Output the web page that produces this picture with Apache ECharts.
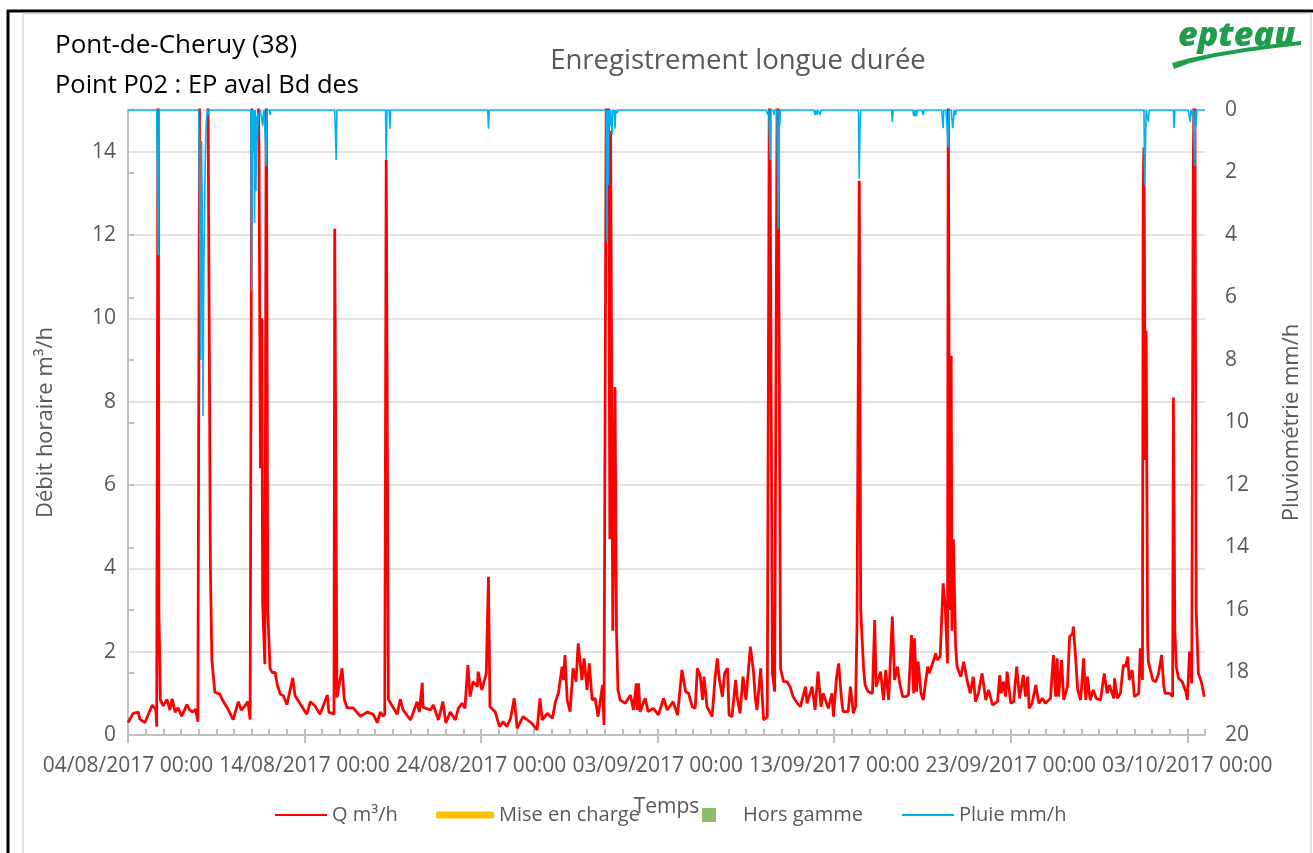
<!DOCTYPE html>
<html>
<head>
<meta charset="utf-8">
<script src="https://cdn.jsdelivr.net/npm/echarts@6/dist/echarts.min.js"></script>
<style>
html,body{margin:0;padding:0;background:#fff;}
#chart{width:1313px;height:853px;}
</style>
</head>
<body>
<div id="chart"></div>
<script>
// ---- DATA (hours since 04/08/2017 00:00, value) ----
const xTickHours = [0, 240, 480, 720, 960, 1200, 1440];
const legendNames = ['Q m³/h', 'Mise en charge', 'Hors gamme', 'Pluie mm/h'];

// Q m³/h, period 04/08 - 14/08
const q1 = [[0,0.3],[7,0.52],[14,0.55],[16,0.38],[23,0.3],[33,0.72],[38,0.6],[39,0.2],[41,18],[42,3],[44,0.84],[48,0.7],[53,0.85],[57,0.6],[60,0.87],[64,0.55],[68,0.65],[73,0.45],[80,0.73],[84,0.6],[88,0.55],[92,0.62],[95,0.32],[97,0.3],[98,20],[107,20],[109,14.6],[112,4],[114,1.8],[118,1.03],[125,0.98],[128,0.85],[135,0.65],[143,0.37],[150,0.8],[154,0.6],[159,0.7],[163,0.8],[166,0.37],[167,0.37],[169,20],[175,18],[178,14.2],[180,6.4],[182,10],[183,3.2],[186,1.7],[188,16],[190,3],[193,1.6],[196,1.5],[200,1.5],[203,1.2],[207,0.98],[211,0.95],[216,0.73],[224,1.37],[227,0.95],[234,0.75]];
// period 14/08 - 24/08
const q2 = [[243,0.5],[248,0.8],[254,0.7],[261,0.5],[271,0.96],[273,0.55],[280,0.5],[281,12.15],[284,0.9],[291,1.6],[294,0.85],[298,0.65],[306,0.65],[316,0.45],[325,0.55],[333,0.5],[339,0.3],[343,0.55],[347,0.45],[349,0.5],[351,13.8],[354,0.85],[359,0.7],[366,0.5],[370,0.86],[374,0.6],[384,0.36],[393,0.8],[396,0.55],[400,1.25],[401,0.67],[411,0.6],[415,0.72],[422,0.36],[428,0.8],[432,0.29],[438,0.55],[445,0.36],[449,0.64],[454,0.76],[458,0.64],[462,1.68],[465,0.92],[469,1.28],[475,1.16],[476,1.52],[481,1.08]];
// period 24/08 - 03/09
const q3 = [[487,1.48],[490,3.8],[492,0.68],[499,0.56],[505,0.2],[510,0.32],[515,0.2],[520,0.4],[525,0.88],[529,0.16],[537,0.44],[543,0.36],[549,0.28],[556,0.12],[560,0.88],[563,0.36],[570,0.52],[577,0.4],[581,0.8],[585,1.0],[590,1.64],[592,1.32],[594,1.92],[597,0.84],[601,0.56],[605,1.6],[609,1.28],[612,2.2],[617,1.32],[620,1.84],[624,1.08],[627,1.72],[631,0.84],[635,0.88],[639,0.44],[645,1.2],[647,0.24],[651,20],[653,16],[655,4.7],[656,14.5],[659,2.5],[662,8.35],[664,2.5],[666,1.08],[669,0.84],[676,0.76],[683,0.96],[687,0.6],[691,1.24],[692,0.6],[694,1.24],[696,0.56],[703,0.88],[707,0.56],[714,0.64]];
// period 03/09 - 13/09
const q4 = [[721,0.48],[728,0.88],[733,0.6],[741,0.8],[747,0.48],[753,1.56],[758,1.04],[762,1.0],[767,0.68],[771,0.64],[774,1.6],[778,1.4],[781,0.84],[783,1.4],[787,0.68],[794,0.44],[798,1.36],[801,1.84],[804,1.32],[808,0.92],[811,1.48],[815,1.6],[817,0.48],[821,0.44],[826,1.32],[828,0.92],[832,0.52],[836,1.4],[840,0.84],[846,2.12],[850,1.56],[853,0.84],[855,0.6],[860,1.6],[864,0.36],[869,0.44],[872,17],[876,1.48],[879,1.04],[883,18],[887,1.6],[891,1.28],[896,1.28],[900,1.16],[904,0.92],[910,0.76],[914,0.68],[921,1.16],[923,0.76],[930,1.16],[934,0.6],[938,1.52],[942,0.68],[945,1.0],[952,0.64],[957,1.0],[959,0.44]];
// period 13/09 - 23/09
const q5 = [[963,1.36],[966,1.72],[970,0.84],[972,0.56],[979,0.56],[982,1.16],[986,0.52],[989,0.68],[991,2.68],[994,13.3],[996,3],[1000,1.56],[1002,1.2],[1006,1.04],[1012,1.0],[1015,2.76],[1017,1.16],[1023,1.52],[1027,0.84],[1030,1.56],[1034,0.84],[1039,2.84],[1042,1.32],[1046,1.64],[1049,1.24],[1053,0.92],[1057,0.92],[1061,0.96],[1065,2.4],[1068,1.0],[1069,2.32],[1072,1.04],[1074,1.76],[1078,1.0],[1081,0.84],[1087,1.64],[1089,1.48],[1093,1.68],[1098,1.96],[1100,1.8],[1104,1.88],[1108,3.64],[1111,3.04],[1114,1.72],[1115,16],[1117,3],[1119,9.1],[1120,2.5],[1122,4.7],[1125,2.12],[1127,1.64],[1132,1.4],[1136,1.76],[1141,1.28],[1145,1.0],[1149,1.4],[1152,0.8],[1156,1.0],[1161,1.48],[1166,0.84],[1170,1.08],[1175,0.72],[1182,0.8],[1185,1.44],[1187,1.0],[1190,1.28],[1193,0.92],[1195,1.52],[1200,0.76]];
// period 23/09 - 04/10
const q6 = [[1204,0.8],[1208,1.64],[1212,0.88],[1217,1.44],[1220,0.92],[1223,1.4],[1225,0.64],[1229,0.76],[1234,1.2],[1238,0.76],[1243,0.88],[1247,0.76],[1254,0.88],[1258,1.92],[1261,0.92],[1263,1.84],[1265,0.92],[1269,1.8],[1272,0.84],[1277,1.16],[1280,2.36],[1284,2.44],[1285,2.6],[1288,1.88],[1291,1.08],[1295,0.84],[1299,1.84],[1302,0.84],[1304,1.4],[1308,0.84],[1312,1.08],[1316,0.88],[1322,0.84],[1327,1.48],[1331,1.0],[1334,1.2],[1340,0.88],[1341,1.36],[1345,0.88],[1349,1.0],[1353,1.68],[1356,1.64],[1359,1.88],[1361,1.32],[1365,1.56],[1368,0.92],[1374,1.0],[1376,2.08],[1379,1.32],[1380,13.2],[1381,14.1],[1383,6.6],[1384,9.7],[1386,2.2],[1387,1.76],[1393,1.32],[1397,1.28],[1401,1.48],[1405,1.92],[1408,1.16],[1410,1.0],[1416,1.0],[1420,0.92],[1421,8.1],[1423,2.5],[1425,1.64],[1428,1.36],[1433,1.28],[1438,1.04],[1440,0.84],[1443,2.0],[1446,1.24],[1448,13.6],[1450,17],[1452,3],[1455,1.48],[1459,1.28],[1463,0.92]];

// Pluie mm/h : hours with rain and amounts (all other hours 0)
const rainHours  = [41, 99,100,101,102,103,104,105,106,107,109, 168,170,172,174,175,176,177,178,179,183,184,188,193, 283, 351,356, 490, 651,653,655,658,660,662,665, 870,873,878,884,886, 934,937,941, 994,995, 1039, 1068,1070,1072, 1081, 1108, 1115,1121,1122,1125, 1382,1383,1387, 1422, 1444,1447,1450,1452];
const rainValues = [4.64, 8.0,1.0,3.0,9.8,5.0,3.6,1.6,0.6,0.2,0.16, 5.8,1.35,3.6,2.6,0.2,1.0,0.16,0.16,0.16,0.5,0.16,1.8,0.16, 1.6, 1.6,0.6, 0.6, 4.2,2.4,0.5,0.8,0.1,0.6,0.1, 0.16,1.6,0.16,3.8,0.5, 0.16,0.16,0.16, 2.2,0.6, 0.38, 0.2,0.2,0.2, 0.16, 0.58, 1.2,0.58,0.38,0.16, 2.4,1.2,0.38, 0.58, 0.38,0.16,1.8,0.5];
const totalHours = 1464;

// ---- build ----
const qData = [].concat(q1, q2, q3, q4, q5, q6);
const rainData = [];
for (let h = 0; h <= totalHours; h++) rainData.push([h, 0]);
rainHours.forEach((h, i) => { rainData[h][1] = rainValues[i]; });

const START = Date.UTC(2017, 7, 4, 0, 0);
function pad(n){ return (n < 10 ? '0' : '') + n; }
function fmtHour(h){
  const d = new Date(START + h * 3600000);
  return pad(d.getUTCDate()) + '/' + pad(d.getUTCMonth() + 1) + '/' + d.getUTCFullYear() + ' ' + pad(d.getUTCHours()) + ':' + pad(d.getUTCMinutes());
}

const FONT = '"Open Sans", "Liberation Sans", sans-serif';
const GREY = '#595959';
const AXIS = '#bfbfbf';

const chart = echarts.init(document.getElementById('chart'), null, {renderer: 'canvas'});
const legendText = {color: GREY, fontSize: 20, fontFamily: FONT};
chart.setOption({
  animation: false,
  backgroundColor: '#ffffff',
  grid: {left: 128, right: 108, top: 110, bottom: 118, containLabel: false},
  xAxis: [{
    type: 'value', min: 0, max: totalHours, interval: 240, position: 'bottom',
    axisLine: {show: true, onZero: false, lineStyle: {color: AXIS, width: 2}},
    axisTick: {show: true, length: 8, lineStyle: {color: AXIS, width: 2}},
    axisLabel: {formatter: fmtHour, color: GREY, fontSize: 21, fontFamily: FONT, margin: 21, showMaxLabel: false, showMinLabel: true},
    splitLine: {show: false},
    name: 'Temps', nameLocation: 'middle', nameGap: 62,
    nameTextStyle: {color: GREY, fontSize: 21, fontFamily: FONT}
  }, {
    type: 'value', min: 0, max: totalHours, interval: 24, position: 'bottom',
    axisLine: {show: false},
    axisTick: {show: true, inside: true, length: 6, lineStyle: {color: AXIS, width: 2}},
    axisLabel: {show: false}, splitLine: {show: false}
  }],
  yAxis: [{
    type: 'value', min: 0, max: 15, interval: 2, position: 'left',
    axisLine: {show: true, lineStyle: {color: AXIS, width: 2}},
    axisTick: {show: false},
    axisLabel: {color: GREY, fontSize: 21, fontFamily: FONT, margin: 12, showMaxLabel: false},
    splitLine: {show: true, lineStyle: {color: '#d9d9d9', width: 1.5}},
    name: 'Débit horaire m³/h', nameLocation: 'middle', nameGap: 71,
    nameTextStyle: {color: GREY, fontSize: 22, fontFamily: FONT}
  }, {
    type: 'value', min: 0, max: 20, interval: 2, position: 'right', inverse: true,
    axisLine: {show: true, lineStyle: {color: AXIS, width: 2}},
    axisTick: {show: true, length: 6, lineStyle: {color: AXIS, width: 2}},
    axisLabel: {color: GREY, fontSize: 21, fontFamily: FONT, margin: 20},
    splitLine: {show: false},
    name: 'Pluviométrie mm/h', nameLocation: 'middle', nameGap: 76,
    nameTextStyle: {color: GREY, fontSize: 22, fontFamily: FONT}
  }],
  legend: [
    {data: [legendNames[0]], left: 275, top: 805, padding: 0, icon: 'rect', itemWidth: 52, itemHeight: 2, selectedMode: false, textStyle: legendText},
    {data: [legendNames[1]], left: 436, top: 805, padding: 0, icon: 'roundRect', itemWidth: 58, itemHeight: 7, selectedMode: false, textStyle: legendText},
    {data: [legendNames[2]], left: 702, top: 805, padding: 0, icon: 'rect', itemWidth: 14, itemHeight: 14, selectedMode: false, textStyle: Object.assign({}, legendText, {padding: [0, 0, 0, 22]})},
    {data: [legendNames[3]], left: 902, top: 805, padding: 0, icon: 'rect', itemWidth: 52, itemHeight: 2, selectedMode: false, textStyle: legendText}
  ],
  series: [{
    name: legendNames[0], type: 'line', xAxisIndex: 0, yAxisIndex: 0, data: qData,
    symbol: 'none', showSymbol: false, clip: true, sampling: null,
    lineStyle: {color: '#ff0000', width: 2.8}, itemStyle: {color: '#ff0000'}
  }, {
    name: legendNames[1], type: 'line', xAxisIndex: 0, yAxisIndex: 0, data: [],
    symbol: 'none', lineStyle: {color: '#ffc000', width: 7}, itemStyle: {color: '#ffc000'}
  }, {
    name: legendNames[2], type: 'scatter', xAxisIndex: 0, yAxisIndex: 0, data: [],
    itemStyle: {color: '#70ad47'}
  }, {
    name: legendNames[3], type: 'line', xAxisIndex: 0, yAxisIndex: 1, data: rainData,
    symbol: 'none', showSymbol: false, clip: true,
    lineStyle: {color: '#00b0f0', width: 1.6}, itemStyle: {color: '#00b0f0'}
  }],
  graphic: [
    {type: 'line', shape: {x1: 7, y1: 11, x2: 1313, y2: 11}, style: {stroke: '#000', lineWidth: 3}, silent: true},
    {type: 'line', shape: {x1: 8, y1: 10, x2: 8, y2: 853}, style: {stroke: '#000', lineWidth: 3}, silent: true},
    {type: 'line', shape: {x1: 23, y1: 13.5, x2: 1311, y2: 13.5}, style: {stroke: '#d9d9d9', lineWidth: 1.5}, silent: true},
    {type: 'line', shape: {x1: 23, y1: 13.5, x2: 23, y2: 853}, style: {stroke: '#d9d9d9', lineWidth: 1.5}, silent: true},
    {type: 'line', shape: {x1: 1311, y1: 13.5, x2: 1311, y2: 853}, style: {stroke: '#d9d9d9', lineWidth: 1.5}, silent: true},
    {type: 'text', x: 55, y: 46, silent: true, style: {text: 'Pont-de-Cheruy (38)', fill: '#000', font: '26px ' + FONT, align: 'left', verticalAlign: 'middle'}},
    {type: 'text', x: 55, y: 86, silent: true, style: {text: 'Point P02 : EP aval Bd des', fill: '#000', font: '25.5px ' + FONT, align: 'left', verticalAlign: 'middle'}},
    {type: 'text', x: 738, y: 61, silent: true, style: {text: 'Enregistrement longue durée', fill: GREY, font: '27.5px ' + FONT, align: 'center', verticalAlign: 'middle'}},
    {type: 'polygon', silent: true, shape: {points: [[1172,63],[1190,58],[1215,53],[1245,48],[1275,44],[1301,41],[1301,45],[1275,48],[1245,52],[1215,57],[1190,63],[1174,69]]}, style: {fill: '#1f9d4a'}},
    {type: 'text', x: 1178, y: 36, silent: true, style: {text: 'epteau', fill: '#1f9d4a', font: 'italic 800 34px ' + FONT, align: 'left', verticalAlign: 'middle'}}
  ]
});
</script>
</body>
</html>
